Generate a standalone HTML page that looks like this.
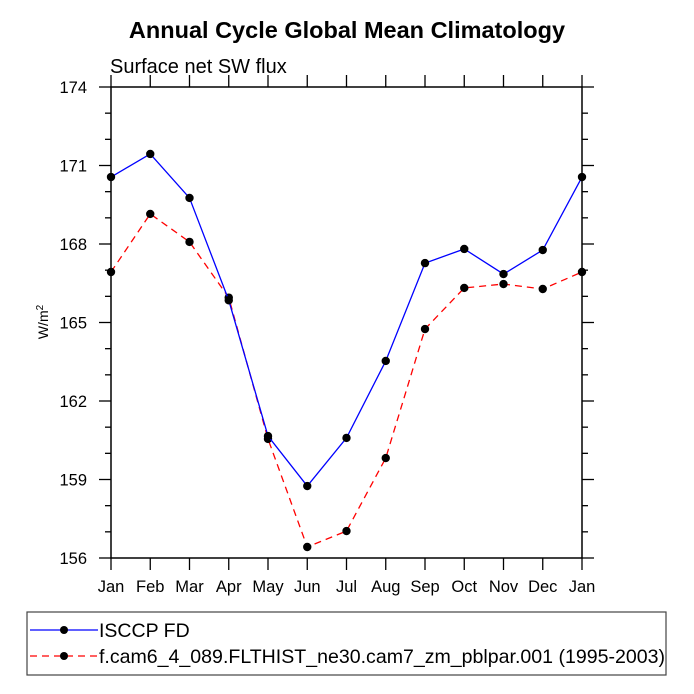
<!DOCTYPE html>
<html><head><meta charset="utf-8"><style>
body{margin:0;background:#fff;}
svg{display:block;font-family:"Liberation Sans",Arial,sans-serif;}
</style></head><body>
<svg id="chart" width="694" height="694">
<text x="347" y="38" text-anchor="middle" font-size="23.5" font-weight="bold">Annual Cycle Global Mean Climatology</text>
<text x="110" y="73" font-size="20">Surface net SW flux</text>
<text transform="translate(48,322) rotate(-90)" text-anchor="middle" font-size="14">W/m<tspan dy="-5" font-size="10">2</tspan></text>
<rect x="111" y="87" width="471" height="471" fill="none" stroke="#000" stroke-width="1.5"/>
<g id="axes"></g>
<g id="series"></g>
<rect x="27" y="612" width="639" height="63" fill="none" stroke="#444" stroke-width="1.2"/>
<g>
<line x1="30" y1="630" x2="98" y2="630" stroke="#0000ff" stroke-width="1.3"/>
<circle cx="64" cy="630" r="4" fill="#000"/>
<text x="99" y="637" font-size="19.5">ISCCP FD</text>
</g>
<g>
<line x1="30" y1="656" x2="98" y2="656" stroke="#ff0000" stroke-width="1.3" stroke-dasharray="7,5"/>
<circle cx="64" cy="656" r="4" fill="#000"/>
<text x="99" y="663" font-size="19.5" textLength="566" lengthAdjust="spacingAndGlyphs">f.cam6_4_089.FLTHIST_ne30.cam7_zm_pblpar.001 (1995-2003)</text>
</g>
</svg>
<script>
const months = ["Jan","Feb","Mar","Apr","May","Jun","Jul","Aug","Sep","Oct","Nov","Dec","Jan"];
const isccp = [170.56,171.44,169.76,165.85,160.66,158.75,160.59,163.53,167.27,167.81,166.85,167.77,170.56];
const model = [166.93,169.15,168.08,165.95,160.55,156.42,157.03,159.82,164.75,166.32,166.47,166.28,166.93];
const yTicks = [156,159,162,165,168,171,174];
const X0=111,X1=582,Y0=558,Y1=87,YMIN=156,YMAX=174;
const xs=i=>X0+(X1-X0)*i/(months.length-1);
const ys=v=>Y0-(v-YMIN)/(YMAX-YMIN)*(Y0-Y1);
const NS="http://www.w3.org/2000/svg";
function mk(tag,attrs,parent){const e=document.createElementNS(NS,tag);for(const k in attrs)e.setAttribute(k,attrs[k]);parent.appendChild(e);return e;}
const ax=document.getElementById('axes');
months.forEach((m,i)=>{
  const x=xs(i);
  const t=mk('line',{x1:x,y1:Y0,x2:x,y2:Y0+12,stroke:'#000','stroke-width':1.3},ax);
  
  
  const t2=mk('line',{x1:x,y1:Y1,x2:x,y2:Y1-12,stroke:'#000','stroke-width':1.3},ax);
  
  
  const l=mk('text',{x:x,y:Y0+34,'text-anchor':'middle','font-size':16.5},ax);
  l.textContent=m;
  
  
});
for(let v=YMIN;v<=YMAX;v++){
  const y=ys(v);const major=(v-YMIN)%3===0;const len=major?12:6;
  const a=mk('line',{x1:X0,y1:y,x2:X0-len,y2:y,stroke:'#000','stroke-width':1.3},ax);
  
  
  const b=mk('line',{x1:X1,y1:y,x2:X1+len,y2:y,stroke:'#000','stroke-width':1.3},ax);
  
  
}
yTicks.forEach(v=>{
  const l=mk('text',{x:X0-24,y:ys(v)+6,'text-anchor':'end','font-size':16.5},ax);
  l.textContent=v;
  
  
});
const sg=document.getElementById('series');
function drawSeries(vals,color,dash,name){
  const g=mk('g',{},sg);
  
  
  const p=mk('polyline',{points:vals.map((v,i)=>xs(i)+','+ys(v)).join(' '),fill:'none',stroke:color,'stroke-width':1.3,'stroke-dasharray':dash},g);
  
  
  vals.forEach((v,i)=>{
    const c=mk('circle',{cx:xs(i),cy:ys(v),r:4.2,fill:'#000'},g);
    
    
  });
}
drawSeries(model,'#ff0000','7,5','model-series');
drawSeries(isccp,'#0000ff','none','isccp-series');
</script>
</body></html>
